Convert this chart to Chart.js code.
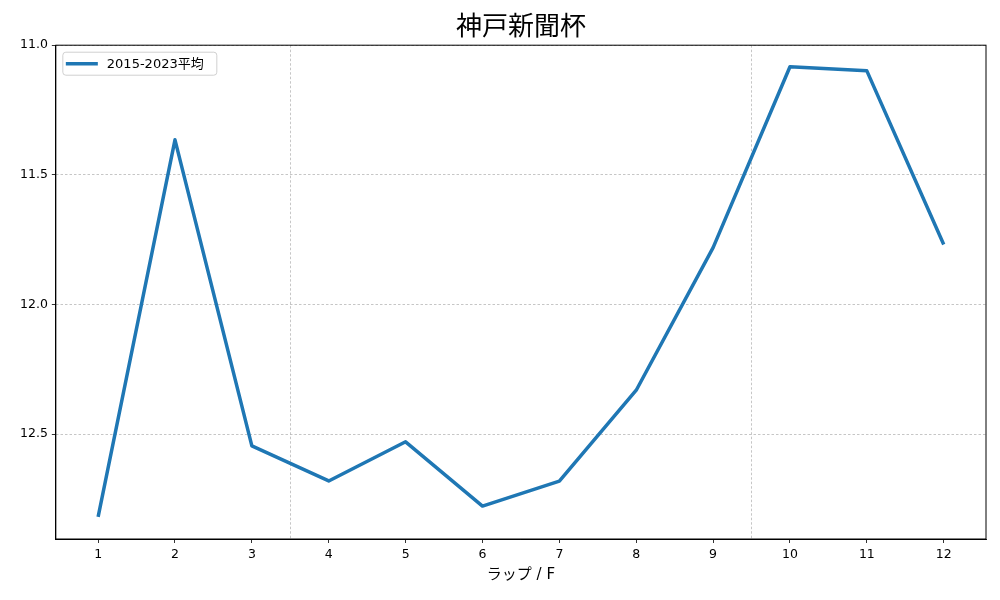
<!DOCTYPE html>
<html>
<head>
<meta charset="utf-8">
<script src="https://cdn.jsdelivr.net/npm/chart.js@4.4.0/dist/chart.umd.min.js"></script>
<style>
  html, body { margin: 0; padding: 0; background: #fff; }
  #wrap { width: 1000px; height: 600px; }
</style>
</head>
<body>
<div id="wrap"><canvas id="myChart"></canvas></div>
<script>
const laps = [1, 2, 3, 4, 5, 6, 7, 8, 9, 10, 11, 12];
const lapTimes = [12.82, 11.365, 12.546, 12.681, 12.53, 12.778, 12.682, 12.331, 11.781, 11.083, 11.099, 11.769];
const yTicks = [11.0, 11.5, 12.0, 12.5];
const xGridLines = [3.5, 9.5];
const seriesLabel = '2015-2023平均';

const FONT = '"DejaVu Sans", "Noto Sans CJK JP", sans-serif';
const GRID = 'rgba(176,176,176,0.9)';

// draws the box round the plot and the legend inside it
const framePlugin = {
    id: 'frame',
    afterDraw(chart) {
        const { ctx, chartArea: a } = chart;
        ctx.save();
        ctx.strokeStyle = '#000';
        ctx.lineWidth = 1;
        ctx.strokeRect(a.left, a.top, a.right - a.left, a.bottom - a.top);

        // legend
        const ds = chart.data.datasets[0];
        const bx = a.left + 7, by = a.top + 7, bw = 154, bh = 23;
        ctx.fillStyle = 'rgba(255,255,255,0.8)';
        ctx.strokeStyle = '#d0d0d0';
        ctx.beginPath();
        ctx.roundRect(bx, by, bw, bh, 3);
        ctx.fill();
        ctx.stroke();
        ctx.strokeStyle = ds.borderColor;
        ctx.lineWidth = ds.borderWidth;
        ctx.beginPath();
        ctx.moveTo(bx + 3, by + bh / 2);
        ctx.lineTo(bx + 35, by + bh / 2);
        ctx.stroke();
        ctx.fillStyle = '#000';
        ctx.font = '13px ' + FONT;
        ctx.textBaseline = 'middle';
        ctx.fillText(ds.label, bx + 44, by + bh / 2 + 1);
        ctx.restore();
    }
};

const ctx = document.getElementById('myChart').getContext('2d');
const chart = new Chart(ctx, {
    type: 'line',
    data: {
        datasets: [{
            label: seriesLabel,
            data: laps.map((x, i) => ({ x: x, y: lapTimes[i] })),
            borderColor: '#1f77b4',
            borderWidth: 3.5,
            borderJoinStyle: 'round',
            tension: 0,
            pointRadius: 0,
            fill: false
        }]
    },
    options: {
        responsive: true,
        maintainAspectRatio: false,
        animation: false,
        layout: { padding: { left: 16, right: 14, top: 8, bottom: 16 } },
        plugins: {
            legend: { display: false },
            tooltip: { enabled: false },
            title: {
                display: true,
                text: '神戸新聞杯',
                fullSize: false,
                color: '#000',
                font: { family: '"Noto Sans CJK JP", sans-serif', size: 26, weight: 'normal' },
                padding: { top: 2, bottom: 4 }
            }
        },
        scales: {
            x: {
                type: 'linear',
                min: 0.45,
                max: 12.55,
                afterBuildTicks: scale => {
                    scale.ticks = laps.concat(xGridLines).map(v => ({ value: v }));
                },
                ticks: {
                    autoSkip: false,
                    maxRotation: 0,
                    color: '#000',
                    font: { family: FONT, size: 12.5 },
                    padding: 4,
                    callback: v => Number.isInteger(v) ? String(v) : ''
                },
                grid: {
                    color: c => Number.isInteger(c.tick.value) ? 'rgba(0,0,0,0)' : GRID,
                    tickColor: c => Number.isInteger(c.tick.value) ? '#000' : 'rgba(0,0,0,0)',
                    lineWidth: 0.8,
                    tickLength: 4
                },
                border: { display: true, color: '#000', width: 1, dash: [2.5, 2] },
                title: {
                    display: true,
                    text: 'ラップ / F',
                    color: '#000',
                    font: { family: FONT, size: 15 },
                    padding: { top: 0, bottom: 0 }
                }
            },
            y: {
                type: 'linear',
                reverse: true,
                min: 11.0,
                max: 12.905,
                afterBuildTicks: scale => {
                    scale.ticks = yTicks.map(v => ({ value: v }));
                },
                ticks: {
                    color: '#000',
                    font: { family: FONT, size: 12.5 },
                    padding: 4,
                    callback: v => v.toFixed(1)
                },
                grid: {
                    color: GRID,
                    tickColor: '#000',
                    lineWidth: 0.8,
                    tickLength: 4
                },
                border: { display: true, color: '#000', width: 1, dash: [2.5, 2] }
            }
        }
    },
    plugins: [framePlugin]
});
</script>
</body>
</html>
